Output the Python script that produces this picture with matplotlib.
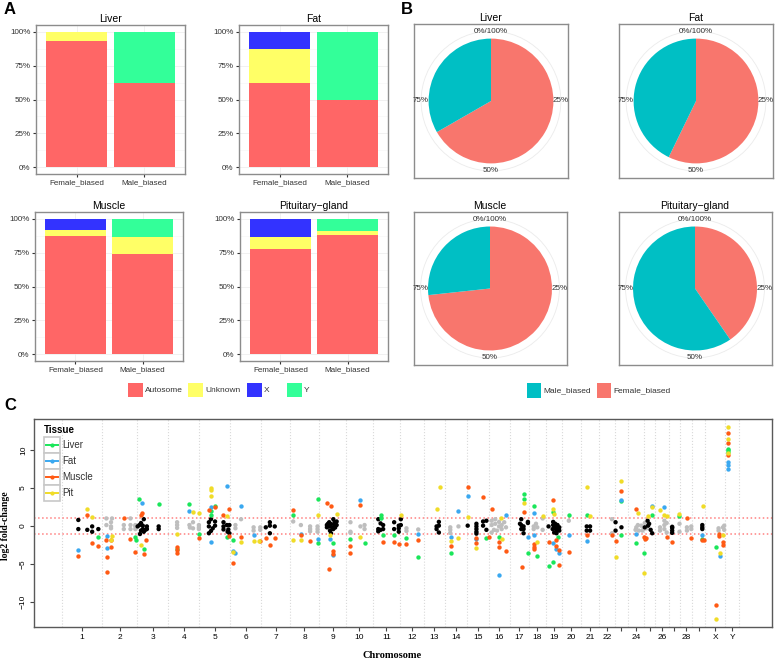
import numpy as np
import matplotlib.pyplot as plt
from matplotlib.patches import Rectangle, Circle

plt.rcParams['font.family'] = ['Liberation Sans', 'DejaVu Sans']

W, H = 775, 660

# ---------------- A: chromosome class of sex-biased genes (%) ----------------
tissues = ['Liver', 'Fat', 'Muscle', 'Pituitary\u2212gland']
groups = ['Female_biased', 'Male_biased']
classes = ['Autosome', 'Unknown', 'X', 'Y']
class_colors = ['#FF6666', '#FFFF66', '#3333FF', '#33FF99']
pct_autosome = [[93.5, 62], [62.5, 50], [87, 74], [78, 88]]
pct_unknown = [[6.5, 0], [25, 0], [5, 12.5], [8.5, 3]]
pct_x = [[0, 0], [12.5, 0], [8, 0], [13.5, 0]]
pct_y = [[0, 38], [0, 50], [0, 13.5], [0, 9]]

# ---------------- B: share of female / male biased genes ----------------
female_share = [0.667, 0.572, 0.733, 0.404]
pie_names = ['Male_biased', 'Female_biased']
pie_colors = ['#00BFC4', '#F8766D']

# ---------------- C: log2 fold-change along the genome ----------------
chrom_names = ['1', '2', '3', '4', '5', '6', '7', '8', '9', '10', '11', '12', '13', '14', '15',
               '16', '17', '18', '19', '20', '21', '22', '23', '24', '25', '26', '27', '28', '29',
               'X', 'Y']
chrom_len = [158, 137, 121, 121, 121, 120, 113, 113, 106, 104, 107, 91, 84, 85, 85, 82, 75,
             66, 64, 72, 72, 61, 53, 63, 43, 52, 45, 46, 52, 77, 55]
hidden_ticks = ['23', '25', '27', '29']

tissue_names = ['Liver', 'Fat', 'Muscle', 'Pit']
tissue_colors = ['#1AE65A', '#3AA8F0', '#FF5A14', '#F0DC28']

# (chromosome, Mb from chromosome middle, log2 fold-change)
liver_pts = [(1, 64, -1.5), (2, 61, -1.4), (2, 65, -1.8), (3, -55, 3.5), (3, -35, -3.0), (3, 23, 2.9),
             (4, -26, -3.0), (4, 22, 2.9), (4, 59, -1.1), (5, -15, 2.0), (5, -15, 1.4), (5, 1, 2.6),
             (5, 47, -1.4), (6, -51, -1.9), (8, -44, 1.4), (8, 51, -2.3), (8, 53, 3.6), (9, 3, -2.3),
             (10, -35, -1.7), (10, 20, -2.3), (11, -23, 1.4), (11, -23, 1.1), (11, -13, -1.2),
             (11, 30, -1.2), (12, -21, -1.6), (12, 25, -4.1), (14, -18, -3.5), (15, 34, -1.6),
             (16, 0, -1.4), (17, 17, 4.2), (17, 17, 3.6), (17, 34, -3.5), (18, -14, 2.7), (18, 0, -3.9),
             (19, -3, 1.8), (19, -5, -4.8), (19, -21, -5.2), (19, 14, -1.4), (20, -10, 1.4),
             (21, -12, 1.4), (23, 0, 3.3), (23, 0, -1.2), (24, 0, -2.3), (24, 29, -3.5), (25, 9, 1.4),
             (28, -26, 1.3), (29, 14, -1.7), (30, 4, -2.8), (31, -18, 10.2), (31, -18, 10.0),
             (31, -18, 9.8)]
fat_pts = [(1, -14, -3.2), (2, -51, -1.3), (2, -51, -2.9), (3, -42, 3.0), (4, 22, 2.0), (5, -15, 2.5),
           (5, -15, -2.1), (5, 47, 5.3), (6, -51, -3.3), (6, -40, -3.5), (6, -18, 2.6), (6, 31, -1.2),
           (8, -14, -1.05), (8, 51, -1.7), (9, 3, -3.8), (9, -8, -1.7), (10, 4, 3.4), (12, 25, -1.05),
           (14, 10, 2.0), (14, -18, -1.5), (15, -39, 3.9), (15, -5, -1.7), (16, 0, -6.45),
           (16, 27, 1.4), (17, 34, -1.4), (18, -14, 1.7), (18, -14, -1.2), (19, 8, -3.0),
           (19, 21, -3.5), (19, -3, -2.3), (20, -10, -1.2), (21, -12, -2.0), (23, 0, 3.4),
           (24, 0, -1.05), (25, 9, 2.6), (26, 6, 2.5), (29, 14, -1.2), (30, 18, -3.9),
           (31, -18, 8.5), (31, -18, 8.0), (31, -18, 7.5)]
muscle_pts = [(1, 21, 1.4), (1, -14, -4.0), (1, 40, -2.3), (1, 64, -2.6), (2, -55, -1.8), (2, -34, -1.9),
              (2, -34, -2.7), (2, -51, -4.1), (2, -51, -6.0), (2, 18, 1.1), (2, 42, -1.65),
              (2, 58, -3.4), (3, -45, 1.5), (3, -41, 1.7), (3, -26, -1.9), (3, -35, -3.7),
              (4, -26, -2.7), (4, -26, -3.2), (4, -26, -3.5), (4, 59, -1.6), (5, -23, 2.15),
              (5, 1, 2.45), (5, 34, 1.4), (5, 57, 2.3), (5, 57, -1.3), (6, -51, -4.9), (6, -18, -1.4),
              (6, 57, -2.0), (7, -38, -1.6), (7, -22, -2.5), (7, -3, -1.6), (8, -44, 2.1),
              (8, -14, -1.2), (8, 22, -2.0), (9, -20, 3.0), (9, -7, 2.6), (9, -13, -5.7), (9, 3, -3.3),
              (9, 3, -3.7), (10, 4, 2.8), (10, -35, -2.6), (10, -35, -3.6), (11, -13, -2.15),
              (11, 30, -2.15), (11, 48, -2.4), (12, -21, -2.4), (12, 25, -1.9), (14, -18, -2.6),
              (15, -39, 5.2), (15, 21, 3.8), (15, -5, -1.6), (15, -5, -2.3), (15, 43, -1.5),
              (16, -26, 2.2), (16, 0, -2.15), (16, 0, -2.7), (16, 27, -3.3), (17, 17, 1.8),
              (17, 10, -5.35), (18, -14, -2.4), (18, -14, -2.7), (18, -14, -3.0), (19, -3, 3.4),
              (19, -21, -2.1), (19, 8, -1.9), (19, 8, -2.6), (19, 21, -3.2), (19, 21, -5.1),
              (20, -10, -3.4), (21, -12, -1.2), (22, 20, -1.2), (23, 0, 4.6), (23, -23, -2.0),
              (24, -2, 2.3), (24, 29, -1.5), (24, 39, -1.6), (25, -20, -1.7), (26, 18, -1.45),
              (27, -9, -2.15), (28, 3, 1.0), (28, 20, -1.6), (29, 14, -1.9), (29, 20, -1.9),
              (30, 4, -10.35), (30, 16, -1.05), (30, 16, -1.3), (30, 32, -2.5), (30, 32, -2.15),
              (31, -18, 12.2), (31, -18, 10.9), (31, -18, 9.4)]
pit_pts = [(1, 21, 2.25), (1, 40, 1.15), (2, -32, -1.3), (2, -34, -1.9), (3, -46, -2.5), (4, -26, -1.1),
           (4, 36, 1.8), (4, 59, 1.7), (5, -15, 5.0), (5, -15, 4.8), (5, -15, 4.0), (5, 47, 1.3),
           (6, -51, -3.4), (6, -18, -2.1), (6, 31, -2.0), (6, 53, -2.0), (8, -43, -1.85),
           (8, -14, -1.8), (8, 51, 1.4), (9, 16, 1.6), (9, -8, -1.2), (10, 4, -1.5), (11, 56, 1.4),
           (13, 21, 5.1), (13, 9, 2.3), (14, -18, -2.0), (14, 10, -1.6), (15, -39, 1.2),
           (15, -5, -2.9), (16, 8, 1.0), (16, 13, -1.7), (17, 17, 3.0), (18, 0, -2.15), (18, 21, 1.35),
           (19, -3, 2.3), (19, 0, 1.6), (21, -12, 5.1), (21, 1, 1.3), (23, 0, 5.9), (23, -23, -4.1),
           (24, 6, 1.7), (24, 29, -6.2), (25, -9, 1.35), (25, 9, 2.5), (26, -7, 2.15), (26, 6, 1.45),
           (26, 18, 1.3), (28, -26, 1.6), (29, 16, 2.6), (30, 18, -3.6), (30, 4, -12.3),
           (30, 30, -1.2), (31, -18, 13.0), (31, -18, 11.5), (31, -18, 9.6)]
# genes without tissue-specific bias (black / grey by chromosome)
bg_pts = [(1, -14, 0.8), (1, -14, -0.4), (1, 21, -0.5), (1, 40, -0.05), (1, 40, -0.75), (1, 64, -0.4),
          (2, -52, 1.0), (2, -52, 0.13), (2, -34, 0.5), (2, -34, -0.05), (2, -34, -0.3), (2, -30, 1.0),
          (2, 16, 0.13), (2, 16, -0.4), (2, 42, 1.0), (2, 42, 0.13), (2, 42, -0.4), (2, 61, -0.05),
          (2, 61, -0.4), (2, 61, 0.13), (3, -59, -0.05), (3, -52, 0.13), (3, -46, 0.4), (3, -46, -0.6),
          (3, -39, 0.05), (3, -39, -0.4), (3, -35, 0.9), (3, -35, -0.75), (3, -29, -0.5),
          (3, -23, -0.4), (3, -23, -0.05), (3, -50, -1.05), (3, 23, -0.05), (3, 23, -0.4),
          (4, -26, 0.5), (4, -26, 0.13), (4, -26, -0.25), (4, 22, 0.13), (4, 24, -0.2), (4, 36, 0.5),
          (4, 36, -0.3), (4, 59, 0.13), (4, 59, -0.17), (4, 59, -0.4), (5, -23, 0.5), (5, -23, -0.05),
          (5, -23, -0.95), (5, -15, 0.9), (5, -15, -0.65), (5, 1, 0.6), (5, 1, 0.05), (5, -8, -0.3),
          (5, 34, 0.5), (5, 34, -0.05), (5, 34, -0.45), (5, 47, 0.13), (5, 57, 0.13), (5, 53, -0.45),
          (5, 57, -0.95), (5, 50, -0.75), (6, -40, 0.13), (6, -40, -0.3), (6, -18, 0.9),
          (6, 31, -0.17), (6, 31, -0.6), (6, 57, -0.17), (6, 57, -0.5), (7, -38, -0.17),
          (7, -22, 0.5), (7, -22, 0.05), (7, -22, -0.95), (7, -3, -0.05), (8, -44, 0.6),
          (8, -14, 0.13), (8, 22, -0.4), (8, 22, -0.05), (8, 22, -0.7), (8, 51, -0.05),
          (8, 51, -0.4), (8, 51, -0.75), (9, -22, 0.13), (9, -22, -0.17), (9, -13, -0.05),
          (9, -13, 0.5), (9, -6, 0.25), (9, -6, -0.95), (9, 3, 0.9), (9, 3, -0.4), (9, -2, -0.17),
          (9, 8, 0.5), (9, 8, 0.13), (9, 16, 0.13), (9, 16, 0.6), (9, -18, 0.3), (9, 10, -0.2),
          (9, -10, -0.6), (10, -35, 0.5), (10, -35, -0.75), (10, -35, -0.9), (10, 4, -0.05),
          (10, 20, 0.13), (10, 20, -0.4), (11, -32, 0.9), (11, -23, 0.35), (11, -13, 0.13),
          (11, -13, -0.4), (11, -32, -0.4), (11, -32, -0.7), (11, -23, -0.5), (11, 30, 0.5),
          (11, 30, -0.4), (11, 48, 0.05), (11, 48, -0.3), (11, 48, -0.75), (11, 56, 0.9),
          (11, 56, 0.13), (12, -21, -0.3), (12, -21, -0.65), (12, 25, -0.45), (13, 9, -0.05),
          (13, 9, -0.4), (13, 18, 0.55), (13, 18, 0.05), (13, 18, -0.85), (14, -22, -0.17),
          (14, -22, -0.5), (14, -22, -0.9), (14, 10, -0.05), (15, -39, 0.05), (15, -5, -0.05),
          (15, -5, -0.4), (15, -5, -0.75), (15, -5, -1.0), (15, -5, 0.3), (15, 21, 0.05),
          (15, 21, 0.6), (15, 34, 0.7), (15, 34, -0.5), (16, -29, 0.7), (16, -29, 0.13),
          (16, -29, -0.85), (16, 0, 0.55), (16, 0, -0.05), (16, 10, 0.13), (16, 10, -0.4),
          (16, 27, -0.17), (16, -15, 0.9), (16, -15, 0.3), (16, -20, -0.5), (16, 20, 0.5),
          (16, -8, -0.6), (17, 8, 0.9), (17, 8, 0.13), (17, 17, -0.05), (17, 17, -0.4),
          (17, 34, 0.55), (17, 34, 0.4), (17, 17, -0.95), (17, 8, -0.4), (17, 3, 0.3),
          (18, -14, -0.05), (18, -14, -0.4), (18, 0, -0.17), (18, 21, 1.0), (18, 21, -0.5),
          (18, -5, 0.3), (19, -21, -0.05), (19, -3, 0.55), (19, -3, 0.13), (19, 1, -0.17),
          (19, 8, 0.05), (19, 8, -0.4), (19, 14, 0.13), (19, 21, -0.17), (19, 21, -0.6),
          (19, 1, -0.85), (19, 10, -0.95), (19, -5, -0.4), (19, 5, 0.3), (19, 16, -0.4),
          (19, 12, -0.6), (20, -10, 0.7), (21, -12, -0.05), (21, 1, -0.05), (21, -12, -0.6),
          (21, 1, -0.6), (22, 20, 0.9), (22, 20, -0.95), (23, -23, 0.5), (23, -23, -0.6),
          (23, 0, -0.17), (24, 0, -0.17), (24, 6, 0.13), (24, 19, 0.05), (24, 29, -0.4),
          (24, 39, -0.3), (24, 33, 0.4), (24, -3, -0.5), (24, 10, -0.6), (24, 24, -0.6),
          (25, -9, 0.7), (25, -7, 0.05), (25, -20, -0.17), (25, 9, -0.95), (25, -3, 0.3),
          (25, 3, -0.5), (26, -8, -0.17), (26, -8, -0.6), (26, 9, 0.7), (26, 9, 0.13),
          (26, 18, 0.4), (26, 18, -0.85), (26, 9, -0.4), (27, -9, -0.25), (27, -9, -0.6),
          (27, -9, -0.9), (27, -9, -0.1), (28, -26, 0.3), (28, -26, -0.75), (28, 3, -0.17),
          (28, 3, -0.6), (28, 20, -0.05), (28, 20, -0.4), (29, 14, 0.13), (29, 14, -0.17),
          (29, 14, -0.4), (30, 13, -0.3), (30, 13, -0.6), (30, 30, -0.17), (30, 35, 0.05),
          (30, 35, -0.5)]

# ------------------------------------------------------------------------
fig = plt.figure(figsize=(W / 100, H / 100), dpi=100)


def box(x0, y0, x1, y1):
    return [x0 / W, 1 - y1 / H, (x1 - x0) / W, (y1 - y0) / H]


frame_col = '#8C8C8C'
text_col = '#333333'

# A: stacked bars
bar_boxes = [(36, 25, 185, 174), (239, 25, 388, 174), (35, 212, 183, 361), (240, 212, 388, 361)]
stack = [pct_autosome, pct_unknown, pct_x, pct_y]
for k, name in enumerate(tissues):
    ax = fig.add_axes(box(*bar_boxes[k]))
    bottom = np.zeros(2)
    for vals, col in zip(stack, class_colors):
        v = np.array(vals[k], float)
        ax.bar([1, 2], v, bottom=bottom, width=0.9, color=col, linewidth=0, zorder=2)
        bottom += v
    ax.set_xlim(0.4, 2.6)
    ax.set_ylim(-5, 105)
    ax.set_yticks([0, 25, 50, 75, 100])
    ax.set_yticklabels(['0%', '25%', '50%', '75%', '100%'])
    ax.set_yticks([12.5, 37.5, 62.5, 87.5], minor=True)
    ax.set_xticks([1, 2])
    ax.set_xticklabels(groups)
    ax.grid(True, which='major', color='#EBEBEB', lw=0.5, zorder=0)
    ax.grid(True, which='minor', axis='y', color='#F5F5F5', lw=0.4, zorder=0)
    ax.tick_params(which='minor', length=0)
    ax.tick_params(length=2.5, width=0.8, color=text_col, labelsize=5.8, pad=1.5,
                   labelcolor=text_col)
    ax.set_title(name, fontsize=7.5, pad=2.5)
    for s in ax.spines.values():
        s.set_color(frame_col)
        s.set_linewidth(1.0)

# B: pies
pie_boxes = [(414, 24, 568, 178), (619, 24, 773, 178), (413, 212, 567, 365), (618, 212, 772, 365)]
for k, name in enumerate(tissues):
    ax = fig.add_axes(box(*pie_boxes[k]))
    f = female_share[k]
    ax.pie([f, 1 - f], colors=[pie_colors[1], pie_colors[0]], startangle=90,
           counterclock=False, radius=1.0, wedgeprops=dict(linewidth=0))
    ax.add_patch(Circle((0, 0), 1.12, fill=False, ec='#EBEBEB', lw=0.6, zorder=0))
    for lab, (tx, ty) in zip(['0%/100%', '25%', '50%', '75%'],
                             [(0, 1.12), (1.12, 0), (0, -1.12), (-1.12, 0)]):
        ax.text(tx, ty, lab, ha='center', va='center', fontsize=5.8, color=text_col)
    ax.set_xlim(-1.234, 1.234)
    ax.set_ylim(-1.234, 1.234)
    ax.set_xticks([])
    ax.set_yticks([])
    ax.set_frame_on(True)
    ax.set_title(name, fontsize=7.5, pad=2.5)
    for s in ax.spines.values():
        s.set_color(frame_col)
        s.set_linewidth(1.0)

# C: genome-wide fold-change
axc = fig.add_axes(box(34, 419, 772, 627))
starts = np.concatenate([[0], np.cumsum(chrom_len)[:-1]])
mids = starts + np.array(chrom_len) / 2
for x in np.append(starts, starts[-1] + chrom_len[-1]):
    axc.axvline(x, color='#D9D9D9', ls=':', lw=0.8, zorder=0)
for yv in (1, -1):
    axc.axhline(yv, color='#FF8080', ls=':', lw=1.1, zorder=1)

bg = np.array(bg_pts, float)
bg_chr = bg[:, 0].astype(int)
axc.scatter(mids[bg_chr - 1] + bg[:, 1], bg[:, 2], s=10, linewidths=0, zorder=2,
            c=np.where(bg_chr % 2 == 1, '#000000', '#BEBEBE'))
for pts, col in zip([liver_pts, fat_pts, muscle_pts, pit_pts], tissue_colors):
    p = np.array(pts, float)
    axc.scatter(mids[p[:, 0].astype(int) - 1] + p[:, 1], p[:, 2], s=10, c=col,
                linewidths=0, zorder=3)

axc.set_xlim(-108, 2772)
axc.set_ylim(-13.3, 14.1)
axc.set_xticks(mids)
axc.set_xticklabels(['' if c in hidden_ticks else c for c in chrom_names])
axc.set_yticks([-10, -5, 0, 5, 10])
axc.tick_params(length=3, width=0.8, color='#444444', labelsize=6, pad=2)
for t in axc.get_yticklabels():
    t.set_rotation(90)
    t.set_va('center')
for s in axc.spines.values():
    s.set_color('#595959')
    s.set_linewidth(1.0)

# overlay for legends and panel letters (pixel coordinates)
ov = fig.add_axes([0, 0, 1, 1], zorder=5)
ov.set_xlim(0, W)
ov.set_ylim(H, 0)
ov.axis('off')

for lab, col, x0 in zip(classes, class_colors, [128, 188, 247, 287]):
    ov.add_patch(Rectangle((x0, 383), 15, 14, fc=col, ec='none'))
    ov.text(x0 + 17, 390.5, lab, va='center', fontsize=6, color=text_col)
for lab, col, x0 in zip(pie_names, pie_colors, [527, 597]):
    ov.add_patch(Rectangle((x0, 383), 14, 15, fc=col, ec='none'))
    ov.text(x0 + 16, 390.5, lab, va='center', fontsize=6, color=text_col)

ov.text(44, 430, 'Tissue', va='center', fontsize=7, fontweight='bold')
for i, (lab, col) in enumerate(zip(tissue_names, tissue_colors)):
    y0 = 437 + i * 16
    ov.add_patch(Rectangle((43.5, y0), 16, 16, fc='white', ec='#C8C8C8', lw=1.2))
    ov.plot([45.5, 57.5], [y0 + 8, y0 + 8], color=col, lw=1.4)
    ov.plot([51.5], [y0 + 8], 'o', color=col, ms=2)
    ov.text(62, y0 + 8, lab, va='center', fontsize=7, color=text_col)

ov.text(6, 526, 'log2 fold-change', rotation=90, ha='center', va='center', fontsize=7,
        family='Liberation Serif', fontweight='bold')
ov.text(392, 656, 'Chromosome', ha='center', va='center', fontsize=7.5,
        family='Liberation Serif', fontweight='bold')

for lab, (tx, ty) in zip(['A', 'B', 'C'], [(4, 9), (401, 9), (4, 406)]):
    ov.text(tx, ty, lab, fontsize=12, fontweight='bold', va='center', ha='left')

fig.savefig('out.png', dpi=100)
